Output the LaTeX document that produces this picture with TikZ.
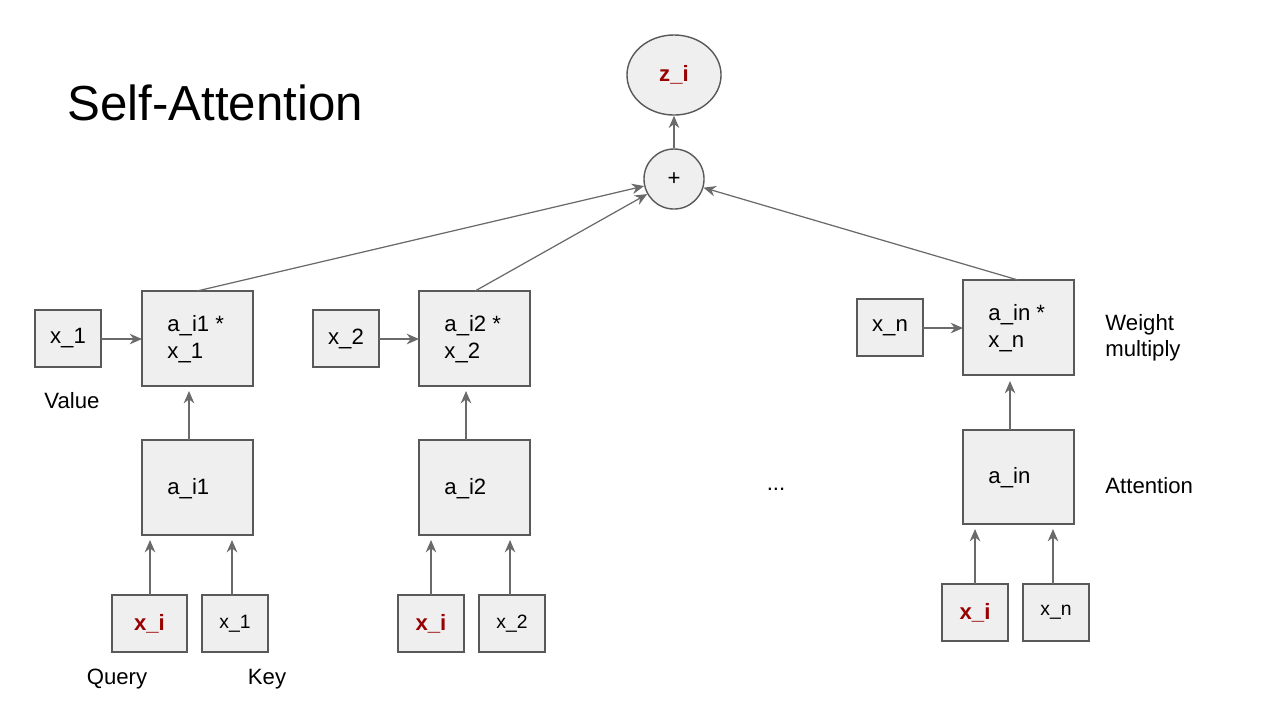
\documentclass[tikz,border=0pt]{standalone}
\usepackage{fontspec}
\setmainfont{Liberation Sans}
\usetikzlibrary{arrows.meta,shapes.geometric}
\definecolor{dred}{HTML}{990000}
\definecolor{bfill}{HTML}{EFEFEF}
\definecolor{bline}{HTML}{595959}
\begin{document}
\begin{tikzpicture}[x=0.01cm,y=-0.01cm,
  box/.style={draw=bline,fill=bfill,line width=0.4pt,inner sep=0pt},
  lbl/.style={font=\fontsize{6.3}{7.5}\selectfont,align=left,anchor=west},
  arr/.style={draw=bline!90,line width=0.35pt,-{Stealth[length=3.5pt,width=3pt]}},
  q/.style={font=\fontsize{6.3}{7.5}\selectfont\bfseries,text=dred}]
\useasboundingbox[fill=white] (0,0) rectangle (1280,720);
\node[font=\fontsize{14}{16}\selectfont,anchor=west] (title) at (55,103) {Self-Attention};
% group 1
\draw[box] (35,310) rectangle (101,367) node[midway,font=\fontsize{6.3}{7.5}\selectfont] (v1) {x\_1};
\draw[box] (142,291) rectangle (253,386);
\node[lbl] (m1) at (155,339) {a\_i1 *\\x\_1};
\draw[box] (142,440) rectangle (253,535);
\node[lbl] (a1) at (155,489) {a\_i1};
\draw[box] (112,595) rectangle (187,652) node[midway,q] (q1) {x\_i};
\draw[box] (202,595) rectangle (268,652) node[midway,font=\fontsize{5.5}{7}\selectfont] (k1) {x\_1};
% group 2
\draw[box] (313,310) rectangle (379,367) node[midway,font=\fontsize{6.3}{7.5}\selectfont] (v2) {x\_2};
\draw[box] (419,291) rectangle (530,386);
\node[lbl] (m2) at (432,339) {a\_i2 *\\x\_2};
\draw[box] (419,440) rectangle (530,535);
\node[lbl] (a2) at (432,489) {a\_i2};
\draw[box] (398,595) rectangle (464,652) node[midway,q] (q2) {x\_i};
\draw[box] (479,595) rectangle (545,652) node[midway,font=\fontsize{5.5}{7}\selectfont] (k2) {x\_2};
% group n
\draw[box] (857,299) rectangle (923,356) node[midway,font=\fontsize{6.3}{7.5}\selectfont] (vn) {x\_n};
\draw[box] (963,280) rectangle (1074,375);
\node[lbl] (mn) at (976,328) {a\_in *\\x\_n};
\draw[box] (963,430) rectangle (1074,524);
\node[lbl] (an) at (976,478) {a\_in};
\draw[box] (942,584) rectangle (1008,641) node[midway,q] (qn) {x\_i};
\draw[box] (1023,584) rectangle (1089,641) node[midway,font=\fontsize{5.5}{7}\selectfont] (kn) {x\_n};
% top
\node[draw=bline,fill=bfill,circle,inner sep=0pt,minimum size=0.6cm,font=\fontsize{6.3}{7.5}\selectfont] (plus) at (674,179) {+};
\node[draw=bline,fill=bfill,ellipse,minimum width=0.94cm,minimum height=0.8cm,inner sep=0pt,q] (z) at (674,75) {z\_i};
% labels
\node[font=\fontsize{6.3}{7.5}\selectfont] (lv) at (72,401) {Value};
\node[font=\fontsize{6.3}{7.5}\selectfont] (lq) at (117,679) {Query};
\node[font=\fontsize{6.3}{7.5}\selectfont] (lk) at (267,679) {Key};
\node[lbl] (lw) at (1093,338) {Weight\\multiply};
\node[lbl] (la) at (1093,486) {Attention};
\node[font=\fontsize{6.3}{7.5}\selectfont] (dots) at (776,489) {...};
% arrows
\draw[arr] (101,339) -- (142,339);
\draw[arr] (379,339) -- (419,339);
\draw[arr] (923,328) -- (963,328);
\draw[arr] (189,440) -- (189,391);
\draw[arr] (466,440) -- (466,391);
\draw[arr] (1010,430) -- (1010,381);
\draw[arr] (150,595) -- (150,540);
\draw[arr] (232,595) -- (232,540);
\draw[arr] (431,595) -- (431,540);
\draw[arr] (510,595) -- (510,540);
\draw[arr] (975,584) -- (975,529);
\draw[arr] (1053,584) -- (1053,529);
\draw[arr] (197,291) -- (plus);
\draw[arr] (475,291) -- (plus);
\draw[arr] (1018,280) -- (plus);
\draw[arr] (plus) -- (z);
\end{tikzpicture}
\end{document}
